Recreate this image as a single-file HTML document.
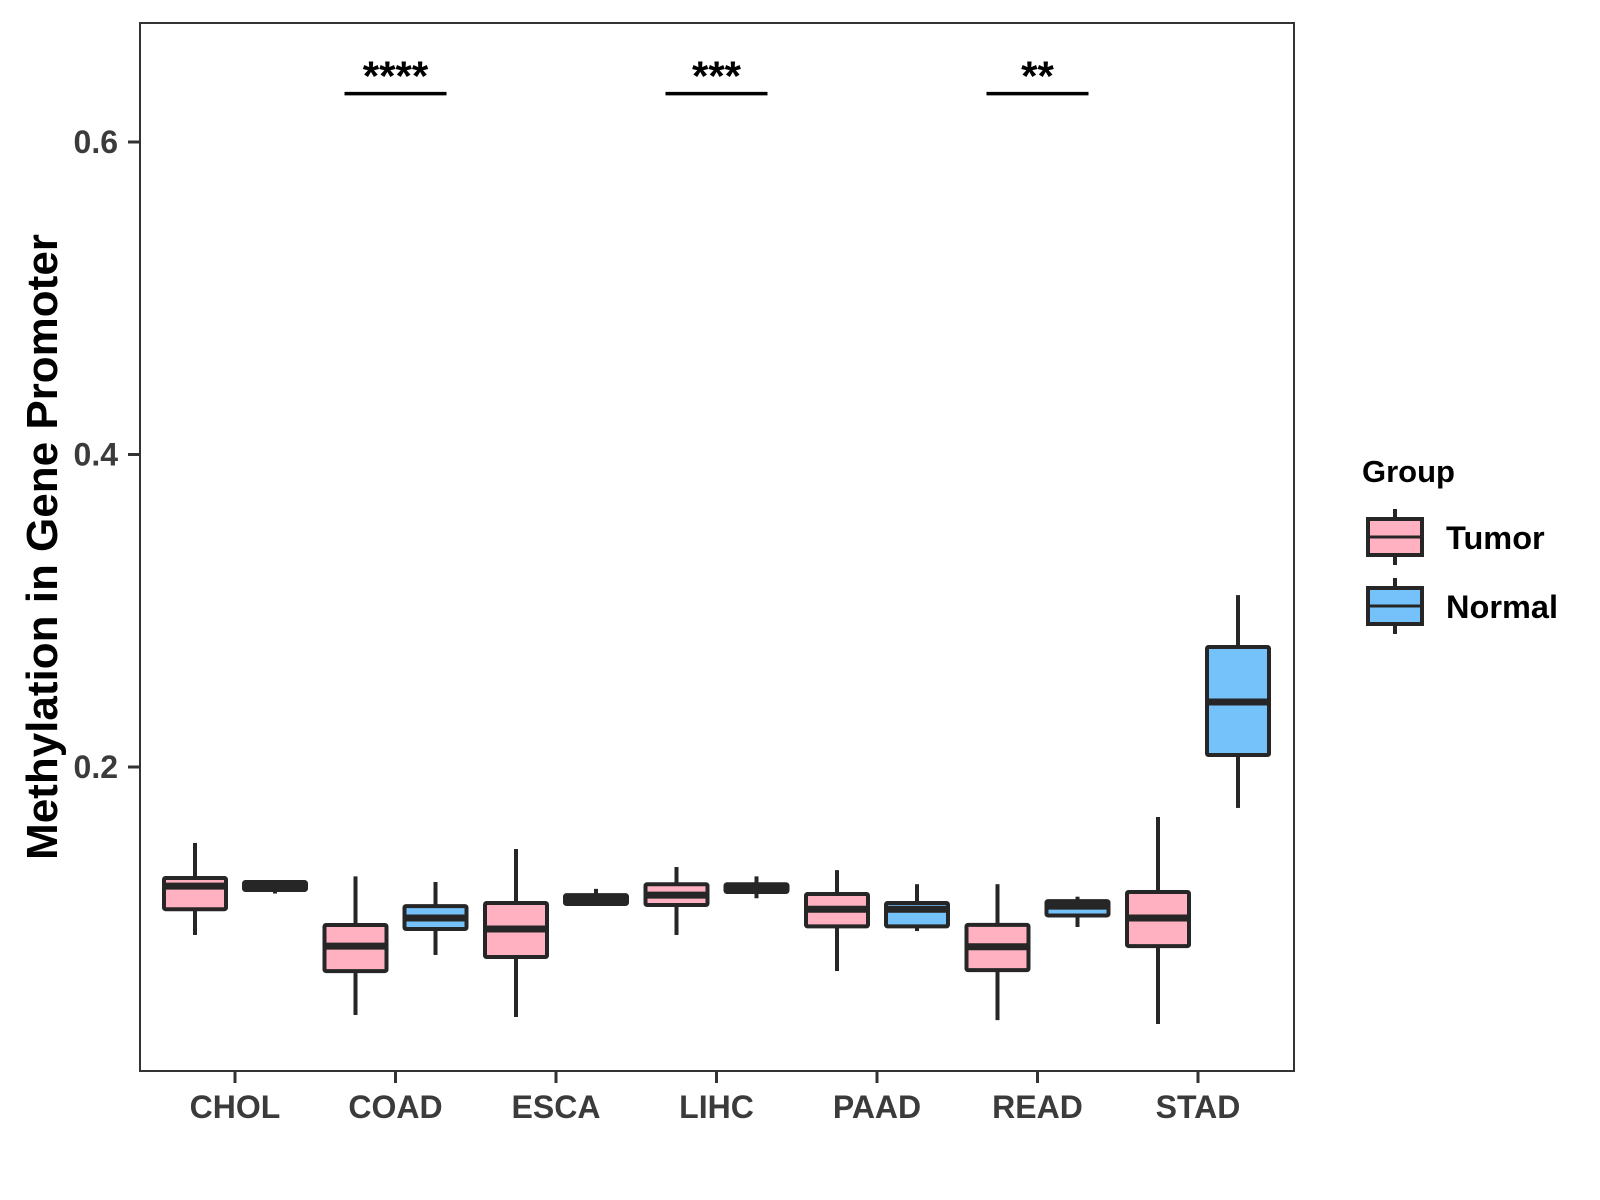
<!DOCTYPE html>
<html><head><meta charset="utf-8"><style>
html,body{margin:0;padding:0;background:#fff;}
svg{display:block;font-family:"Liberation Sans",sans-serif;}
</style></head><body>
<svg id="chart" width="1600" height="1200" viewBox="0 0 1600 1200">
<rect x="0" y="0" width="1600" height="1200" fill="#fff"/>
<g id="marks"></g>
<rect x="140" y="23" width="1154" height="1048" fill="none" stroke="#333" stroke-width="2"/>
<g id="axes"></g>
<text x="0" y="0" transform="translate(57,547) rotate(-90)" text-anchor="middle" font-size="44" font-weight="bold" fill="#000">Methylation in Gene Promoter</text>
<g>
<text x="1362" y="482" font-size="31" font-weight="bold" fill="#000">Group</text>
<g>
<line x1="1395" y1="509" x2="1395" y2="565" stroke="#262626" stroke-width="4"/>
<rect x="1368" y="519" width="54" height="36" fill="#FFB0C1" stroke="#262626" stroke-width="4"/>
<line x1="1368" y1="537" x2="1422" y2="537" stroke="#262626" stroke-width="3"/>
<text x="1446" y="549" font-size="32.5" font-weight="bold" fill="#000">Tumor</text>
</g>
<g>
<line x1="1395" y1="578" x2="1395" y2="634" stroke="#262626" stroke-width="4"/>
<rect x="1368" y="588" width="54" height="36" fill="#75C1F9" stroke="#262626" stroke-width="4"/>
<line x1="1368" y1="606" x2="1422" y2="606" stroke="#262626" stroke-width="3"/>
<text x="1446" y="618" font-size="32.5" font-weight="bold" fill="#000">Normal</text>
</g>
</g>
</svg>
<script>
const categories = ["CHOL","COAD","ESCA","LIHC","PAAD","READ","STAD"];
const groups = ["Tumor","Normal"];
// [lower whisker, Q1, median, Q3, upper whisker]
const tumorStats = [
 [0.0925,0.109,0.1238,0.129,0.1514],
 [0.0413,0.0694,0.0854,0.0989,0.130],
 [0.040,0.0784,0.0963,0.113,0.1475],
 [0.0925,0.1117,0.118,0.125,0.136],
 [0.0694,0.098,0.109,0.1187,0.134],
 [0.038,0.070,0.085,0.099,0.125],
 [0.0355,0.0854,0.1034,0.120,0.168]
];
const normalStats = [
 [0.119,0.1213,0.1238,0.1264,0.127],
 [0.0797,0.0963,0.1034,0.111,0.1264],
 [0.112,0.1123,0.1154,0.118,0.122],
 [0.116,0.120,0.122,0.125,0.130],
 [0.095,0.098,0.109,0.113,0.125],
 [0.0976,0.105,0.111,0.1142,0.117],
 [0.1738,0.2077,0.2416,0.2768,0.310]
];
const yTicks = [0.2,0.4,0.6];
const yTickLabels = ["0.2","0.4","0.6"];
const sigCategories = ["COAD","LIHC","READ"];
const sigLabels = ["****","***","**"];
const sigLevel = 0.631;

const NS="http://www.w3.org/2000/svg";
function yScale(v){ return 767 - (v-0.2)*1562.5; }
function xScale(i){ return 235 + i*160.5; }
const fills = {Tumor:"#FFB0C1", Normal:"#75C1F9"};
const marks = document.getElementById('marks');
const axes = document.getElementById('axes');
function mk(tag, attrs, parent){
  const e=document.createElementNS(NS,tag);
  for(const k in attrs) e.setAttribute(k,attrs[k]);
  parent.appendChild(e); return e;
}
function drawBox(stats, cx, fill, name){
  const g=mk('g',{},marks);
  
  
  const [lo,q1,med,q3,hi]=stats;
  const hw=31;
  mk('line',{x1:cx,x2:cx,y1:yScale(hi),y2:yScale(q3),stroke:"#262626","stroke-width":4},g);
  mk('line',{x1:cx,x2:cx,y1:yScale(q1),y2:yScale(lo),stroke:"#262626","stroke-width":4},g);
  const top=yScale(q3), bot=yScale(q1);
  mk('rect',{x:cx-hw,y:top,width:2*hw,height:Math.max(bot-top,0.5),fill:fill,stroke:"#262626","stroke-width":4,rx:1.5},g);
  mk('line',{x1:cx-hw,x2:cx+hw,y1:yScale(med),y2:yScale(med),stroke:"#262626","stroke-width":7},g);
}
categories.forEach((c,i)=>{
  drawBox(tumorStats[i], xScale(i)-40, fills.Tumor, 'box-tumor-'+c.toLowerCase());
  drawBox(normalStats[i], xScale(i)+40, fills.Normal, 'box-normal-'+c.toLowerCase());
  const t=mk('line',{x1:xScale(i),x2:xScale(i),y1:1071,y2:1083,stroke:"#333","stroke-width":3},axes);
  
  
  const l=mk('text',{x:xScale(i),y:1118,"text-anchor":"middle","font-size":32,"font-weight":"bold",fill:"#3b3b3b"},axes);
  l.textContent=c;
  
  
});
yTicks.forEach((v,i)=>{
  const t=mk('line',{x1:128,x2:140,y1:yScale(v),y2:yScale(v),stroke:"#333","stroke-width":3},axes);
  
  
  const l=mk('text',{x:118,y:yScale(v)+11,"text-anchor":"end","font-size":32,"font-weight":"bold",fill:"#3b3b3b"},axes);
  l.textContent=yTickLabels[i];
  
  
});
sigCategories.forEach((c,j)=>{
  const i=categories.indexOf(c);
  const cx=xScale(i), y=yScale(sigLevel);
  const ln=mk('line',{x1:cx-51,x2:cx+51,y1:y,y2:y,stroke:"#000","stroke-width":3.5},marks);
  
  
  const tx=mk('text',{x:cx,y:y-3,"text-anchor":"middle","font-size":42,"font-weight":"bold",fill:"#000"},marks);
  tx.textContent=sigLabels[j];
  
  
});
</script>
</body></html>
